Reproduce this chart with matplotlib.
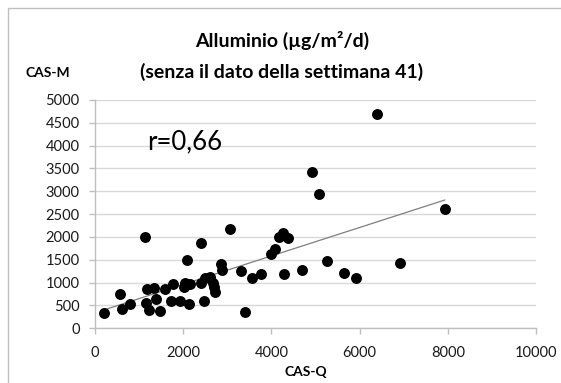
import numpy as np
import matplotlib
matplotlib.use("Agg")
import matplotlib.pyplot as plt
from matplotlib.patches import Rectangle

plt.rcParams['font.family'] = ['Lato', 'DejaVu Sans']

# Aluminium deposition (µg/m²/d): CAS-Q vs CAS-M
cas_q = [210, 570, 610, 800, 1140, 1150, 1180, 1230, 1330, 1380, 1470, 1590,
         1770, 1720, 1920, 2030, 2020, 2080, 2160, 2140, 2400, 2410, 2480,
         2490, 2600, 2670, 2690, 2720, 2860, 2880, 3070, 3310, 3410, 3550,
         3770, 3990, 4090, 4170, 4260, 4380, 4280, 4690, 4920, 5090, 5260,
         5640, 5920, 6400, 6910, 7930]
cas_m = [340, 760, 420, 530, 2010, 560, 860, 390, 880, 650, 380, 860,
         960, 590, 590, 1000, 910, 1490, 970, 540, 1000, 1860, 600,
         1110, 1120, 990, 900, 800, 1410, 1270, 2180, 1250, 360, 1100,
         1180, 1620, 1730, 2010, 2080, 1980, 1180, 1270, 3420, 2940, 1470,
         1220, 1110, 4690, 1430, 2620]

x_ticks = [0, 2000, 4000, 6000, 8000, 10000]
y_ticks = [0, 500, 1000, 1500, 2000, 2500, 3000, 3500, 4000, 4500, 5000]

W, H = 561, 383
fig = plt.figure(figsize=(W / 100, H / 100), dpi=100)
fig.patch.set_facecolor('white')

# chart-area frame
fig.patches.append(Rectangle((8 / W, -0.1), 1.2, 1 - 8 / H + 0.1,
                             transform=fig.transFigure, fill=False,
                             edgecolor='#bfbfbf', lw=1.0))

ax = fig.add_axes([95 / W, 1 - 328.3 / H, (536 - 95) / W, (328.3 - 100) / H])
ax.set_xlim(0, 10000)
ax.set_ylim(0, 5000)
ax.set_xticks(x_ticks)
ax.set_yticks(y_ticks)
ax.set_xticklabels([str(v) for v in x_ticks])
ax.set_yticklabels([str(v) for v in y_ticks])

ax.grid(axis='y', color='#d9d9d9', lw=1.0, zorder=0)
for s in ['top', 'right']:
    ax.spines[s].set_visible(False)
for s in ['left', 'bottom']:
    ax.spines[s].set_color('#bfbfbf')
    ax.spines[s].set_linewidth(1.0)
ax.tick_params(axis='both', colors='#bfbfbf', labelcolor='#1a1a1a',
               labelsize=10.5, length=4, width=1.0, direction='out')
ax.tick_params(axis='x', pad=9)
ax.tick_params(axis='y', pad=7)

ax.scatter(cas_q, cas_m, s=62, color='black', zorder=3, linewidths=0)

# linear trend line over the data range
slope, intercept = np.polyfit(cas_q, cas_m, 1)
xs = np.array([min(cas_q), max(cas_q)])
ax.plot(xs, slope * xs + intercept, color='#7f7f7f', lw=0.9, zorder=2)

# text box with the correlation coefficient
ax.add_patch(Rectangle((0.041, 0.72), 0.326, 0.20, transform=ax.transAxes,
                       facecolor='white', edgecolor='none', zorder=1))
ax.text(0.204, 0.816, 'r=0,66', fontsize=18.5, ha='center', va='center',
        color='black', zorder=4, transform=ax.transAxes)

fig.text(282 / W, 1 - 40 / H, 'Alluminio (µg/m²/d)', fontsize=14,
         fontweight='bold', ha='center', va='center')
fig.text(282 / W, 1 - 72 / H, '(senza il dato della settimana 41)',
         fontsize=14, fontweight='bold', ha='center', va='center')
fig.text(48 / W, 1 - 73 / H, 'CAS-M', fontsize=10, fontweight='bold',
         ha='center', va='center')
fig.text(306 / W, 1 - 372 / H, 'CAS-Q', fontsize=10, fontweight='bold',
         ha='center', va='center')

fig.savefig('out.png', dpi=100)
